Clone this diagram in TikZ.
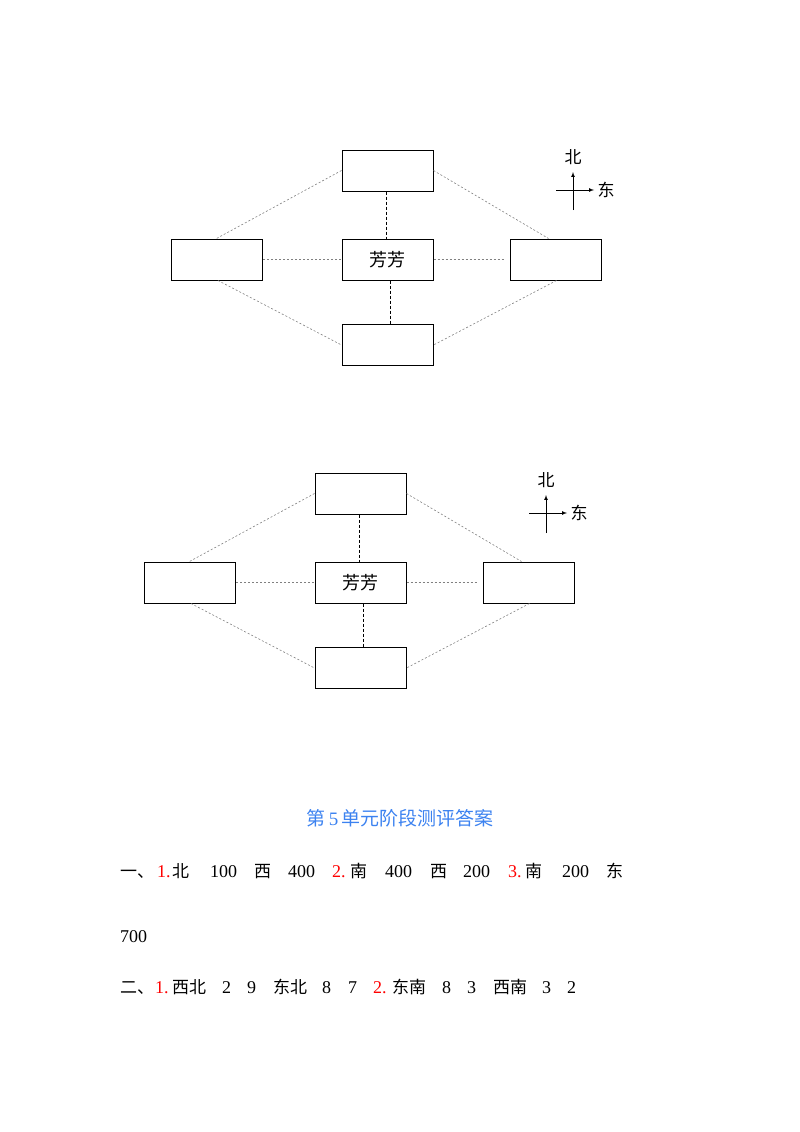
\documentclass[tikz,border=0pt]{standalone}
\usepackage{fontspec}
\setmainfont{Liberation Serif}
\newfontfamily\cjk{Noto Sans CJK SC}
\begin{document}
\begin{tikzpicture}[x=1pt,y=-1pt,
  bx/.style={draw,line width=1pt,minimum width=91pt,minimum height=41pt,inner sep=0pt,font=\cjk\fontsize{18}{18}\selectfont},
  dl/.style={dashed,dash pattern=on 2pt off 2pt,gray,line width=0.6pt},
  dk/.style={dashed,dash pattern=on 3pt off 2pt,black,line width=0.8pt},
  tx/.style={anchor=base west,inner sep=0pt,font=\fontsize{18}{18}\selectfont},
  cj/.style={anchor=base west,inner sep=0pt,font=\cjk\fontsize{17}{17}\selectfont},
  rd/.style={tx,red}]
\useasboundingbox (0,0) rectangle (800,1132);
\newcommand\mydiagram[3]{%
\begin{scope}[shift={(#2,#3)}]
\node[bx] (#1t) at (387.5,170.5) {};
\node[bx] (#1l) at (217,259.5) {};
\node[bx] (#1c) at (387.5,259.5) {芳芳};
\node[bx] (#1r) at (555.5,259.5) {};
\node[bx] (#1b) at (387.5,345) {};
\draw[dl] (#1t.west) -- ([xshift=-0.5pt]#1l.north);
\draw[dl] (#1t.east) -- ([xshift=-7pt]#1r.north);
\draw[dl] ([xshift=1pt]#1l.south) -- (#1b.west);
\draw[dl] ([xshift=1pt]#1r.south) -- (#1b.east);
\draw[dl] (#1l.east) -- (#1c.west);
\draw[dl] (#1c.east) -- ([xshift=-5pt]#1r.west);
\draw[dk] ([xshift=-1.5pt]#1t.south) -- ([xshift=-1.5pt]#1c.north);
\draw[dk] ([xshift=2.5pt]#1c.south) -- ([xshift=2.5pt]#1b.north);
\coordinate (#1s) at (573,210); \coordinate (#1n) at (573,172);
\coordinate (#1w) at (556,190); \coordinate (#1e) at (594,190);
\draw[-latex,line width=0.7pt] (#1s) -- (#1n);
\draw[-latex,line width=0.7pt] (#1w) -- (#1e);
\node[font=\cjk\fontsize{17}{17}\selectfont,inner sep=0pt] (#1N) at (573,157) {北};
\node[font=\cjk\fontsize{17}{17}\selectfont,inner sep=0pt] (#1E) at (606,190) {东};
\end{scope}}
\mydiagram{a}{0}{0}
\mydiagram{b}{-27}{323}
\node[anchor=base,inner sep=0pt,font=\cjk\fontsize{19}{19}\selectfont,color={rgb,255:red,60;green,130;blue,240}] (title) at (400,825) {第\,{\rmfamily 5}\,单元阶段测评答案};
% line 1
\node[cj] (l1a) at (120,877) {一、};
\node[rd] (l1b) at (157,877) {1.};
\node[cj] (l1c) at (172,877) {北};
\node[tx] (l1d) at (210,877) {100};
\node[cj] (l1e) at (254,877) {西};
\node[tx] (l1f) at (288,877) {400};
\node[rd] (l1g) at (332,877) {2.};
\node[cj] (l1h) at (350,877) {南};
\node[tx] (l1i) at (385,877) {400};
\node[cj] (l1j) at (430,877) {西};
\node[tx] (l1k) at (463,877) {200};
\node[rd] (l1l) at (508,877) {3.};
\node[cj] (l1m) at (525,877) {南};
\node[tx] (l1n) at (562,877) {200};
\node[cj] (l1o) at (606,877) {东};
\node[tx] (l2a) at (120,942) {700};
% line 3
\node[cj] (l3a) at (120,993) {二、};
\node[rd] (l3b) at (155,993) {1.};
\node[cj] (l3c) at (172,993) {西北};
\node[tx] (l3d) at (222,993) {2};
\node[tx] (l3e) at (247,993) {9};
\node[cj] (l3f) at (273,993) {东北};
\node[tx] (l3g) at (322,993) {8};
\node[tx] (l3h) at (348,993) {7};
\node[rd] (l3i) at (373,993) {2.};
\node[cj] (l3j) at (392,993) {东南};
\node[tx] (l3k) at (442,993) {8};
\node[tx] (l3l) at (467,993) {3};
\node[cj] (l3m) at (493,993) {西南};
\node[tx] (l3n) at (542,993) {3};
\node[tx] (l3o) at (567,993) {2};
\end{tikzpicture}
\end{document}
